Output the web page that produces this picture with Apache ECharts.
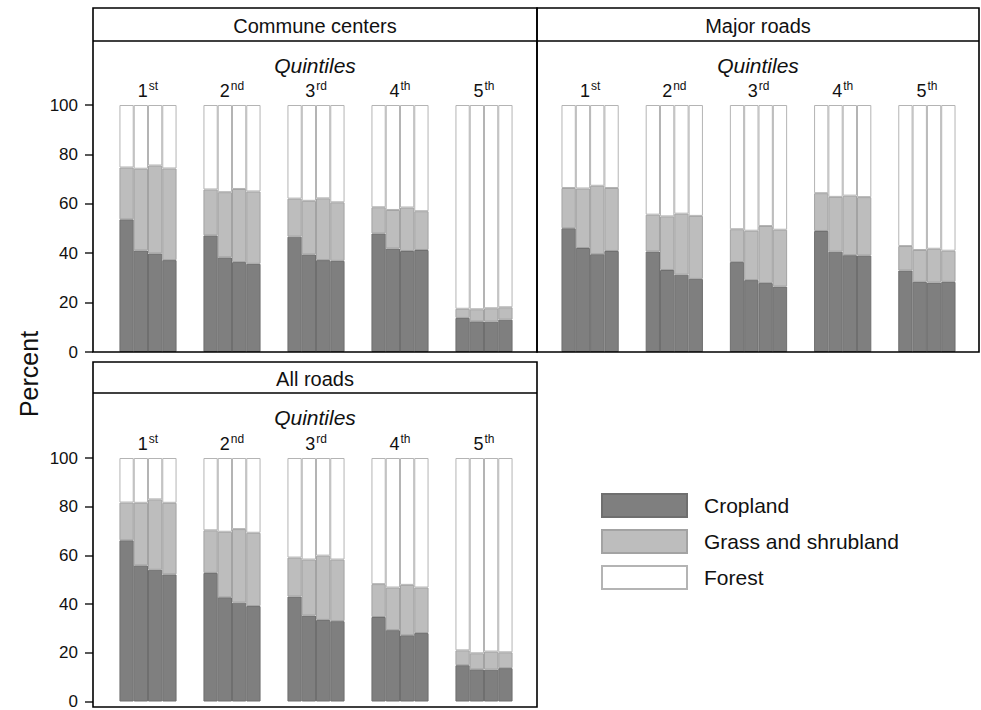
<!DOCTYPE html>
<html>
<head>
<meta charset="utf-8">
<script src="https://cdn.jsdelivr.net/npm/echarts@6/dist/echarts.min.js"></script>
<style>html,body{margin:0;padding:0;background:#fff}#c{width:981px;height:710px}</style>
</head>
<body>
<div id="c"></div>
<script>
// Quintile labels
var quintileNums = ['1', '2', '3', '4', '5'];
var quintileSuffix = ['st', 'nd', 'rd', 'th', 'th'];
var panelTitles = ['Commune centers', 'Major roads', 'All roads'];
var seriesNames = ['Cropland', 'Grass and shrubland', 'Forest'];
var yTicks = [0, 20, 40, 60, 80, 100];

// Each row = one quintile, 4 bars per quintile (percent)
var communeCrop   = [[53.7,41.1,39.9,37.2],[47.2,38.3,36.4,35.7],[46.7,39.5,37.2,36.9],[48.0,41.9,40.9,41.3],[13.8,12.4,12.3,13.1]];
var communeGrass  = [[21.0,33.1,35.6,37.1],[18.6,26.4,29.6,29.3],[15.4,21.7,25.0,23.7],[10.6,15.6,17.6,15.7],[3.7,4.9,5.4,5.0]];
var communeForest = [[25.3,25.8,24.5,25.7],[34.2,35.3,34.0,35.0],[37.9,38.8,37.8,39.4],[41.4,42.5,41.5,43.0],[82.5,82.7,82.3,81.9]];

var majorCrop   = [[50.1,42.1,39.6,40.9],[40.7,33.2,31.3,29.6],[36.4,29.1,27.9,26.5],[49.0,40.6,39.2,39.1],[33.0,28.4,28.1,28.4]];
var majorGrass  = [[16.3,24.1,27.7,25.5],[14.9,21.7,24.7,25.5],[13.3,20.0,23.1,23.0],[15.3,22.2,24.1,23.6],[9.9,12.9,13.7,12.6]];
var majorForest = [[33.6,33.8,32.7,33.6],[44.4,45.1,44.0,44.9],[50.3,50.9,49.0,50.5],[35.7,37.2,36.7,37.3],[57.1,58.7,58.2,59.0]];

var allCrop   = [[66.2,55.9,54.1,52.2],[52.8,42.8,40.6,39.2],[43.1,35.3,33.5,33.0],[34.7,29.3,27.2,28.1],[14.9,13.2,13.1,13.7]];
var allGrass  = [[15.5,25.7,28.9,29.4],[17.5,26.9,30.2,30.1],[16.0,23.0,26.4,25.3],[13.5,17.5,20.7,18.7],[6.1,6.6,7.4,6.5]];
var allForest = [[18.3,18.4,17.0,18.4],[29.7,30.3,29.2,30.7],[40.9,41.7,40.1,41.7],[51.8,53.2,52.1,53.2],[79.0,80.2,79.5,79.8]];

var panels = [
  [communeCrop, communeGrass, communeForest],
  [majorCrop, majorGrass, majorForest],
  [allCrop, allGrass, allForest]
];

var FONT = 'Liberation Sans, Arial, Helvetica, sans-serif';
var fills = ['#7f7f7f', '#bdbdbd', '#ffffff'];
var borders = ['#6f6f6f', '#a3a3a3', '#b4b4b4'];

// layout
var grids = [
  {left: 106, top: 105, width: 420, height: 247},
  {left: 548, top: 105, width: 421, height: 247},
  {left: 106, top: 458, width: 420, height: 248}
];
var frames = [
  {x: 93, y: 8, w: 444, h: 344, hdr: 41},
  {x: 537, y: 8, w: 442, h: 344, hdr: 41},
  {x: 93, y: 362, w: 444, h: 345, hdr: 393}
];

var xAxes = [], yAxes = [], series = [], graphics = [];
grids.forEach(function (g, p) {
  xAxes.push({
    type: 'category', gridIndex: p, position: 'top',
    data: quintileNums.map(function (n, i) { return n + '|' + quintileSuffix[i]; }),
    axisLine: {show: false}, axisTick: {show: false},
    axisLabel: {
      margin: 5,
      formatter: function (v) { var a = v.split('|'); return '{n|' + a[0] + '}{s|' + a[1] + '}'; },
      rich: {
        n: {fontSize: 18, fontFamily: FONT, color: '#111', lineHeight: 20, verticalAlign: 'bottom'},
        s: {fontSize: 12, fontFamily: FONT, color: '#111', verticalAlign: 'top', padding: [0, 0, 4, 1]}
      }
    }
  });
  yAxes.push({
    type: 'value', gridIndex: p, min: 0, max: 100, interval: 20,
    offset: 13, show: p !== 1,
    axisLine: {show: false},
    axisTick: {show: true, length: 8, lineStyle: {color: '#222', width: 1.5}},
    axisLabel: {fontSize: 17, fontFamily: FONT, color: '#111', margin: 15},
    splitLine: {show: false}
  });
  var data = panels[p];
  for (var b = 0; b < 4; b++) {
    for (var k = 0; k < 3; k++) {
      series.push({
        type: 'bar', name: seriesNames[k], xAxisIndex: p, yAxisIndex: p,
        stack: 'p' + p + 'b' + b, barGap: 0, barCategoryGap: '32%',
        itemStyle: {color: fills[k], borderColor: borders[k], borderWidth: 1},
        emphasis: {disabled: true}, animation: false,
        data: data[k].map(function (row) { return row[b]; })
      });
    }
  }
  var f = frames[p];
  graphics.push({type: 'rect', shape: {x: f.x, y: f.y, width: f.w, height: f.h}, style: {fill: 'none', stroke: '#000', lineWidth: 1.6}, z: 100});
  graphics.push({type: 'line', shape: {x1: f.x, y1: f.hdr, x2: f.x + f.w, y2: f.hdr}, style: {stroke: '#000', lineWidth: 1.6}, z: 100});
  graphics.push({type: 'text', x: f.x + f.w / 2, y: (f.y + f.hdr) / 2 + 1,
    style: {text: panelTitles[p], fontSize: 20, fontFamily: FONT, fill: '#111', textAlign: 'center', textVerticalAlign: 'middle', align: 'center', verticalAlign: 'middle'}});
  graphics.push({type: 'text', x: f.x + f.w / 2, y: f.hdr + 24,
    style: {text: 'Quintiles', fontSize: 21, fontStyle: 'italic', fontFamily: FONT, fill: '#111', textAlign: 'center', textVerticalAlign: 'middle', align: 'center', verticalAlign: 'middle'}});
});
graphics.push({type: 'text', x: 29, y: 374, rotation: Math.PI / 2,
  style: {text: 'Percent', fontSize: 25, fontFamily: FONT, fill: '#111', textAlign: 'center', textVerticalAlign: 'middle', align: 'center', verticalAlign: 'middle'}});

var chart = echarts.init(document.getElementById('c'), null, {renderer: 'svg'});
chart.setOption({
  animation: false,
  backgroundColor: '#fff',
  grid: grids,
  xAxis: xAxes,
  yAxis: yAxes,
  legend: {
    data: seriesNames, orient: 'vertical', left: 601, top: 493, padding: 0,
    itemWidth: 85, itemHeight: 23, itemGap: 11, icon: 'rect',
    selectedMode: false,
    textStyle: {fontSize: 21, fontFamily: FONT, color: '#111', padding: [0, 0, 0, 12]}
  },
  graphic: graphics,
  series: series
});
</script>
</body>
</html>
